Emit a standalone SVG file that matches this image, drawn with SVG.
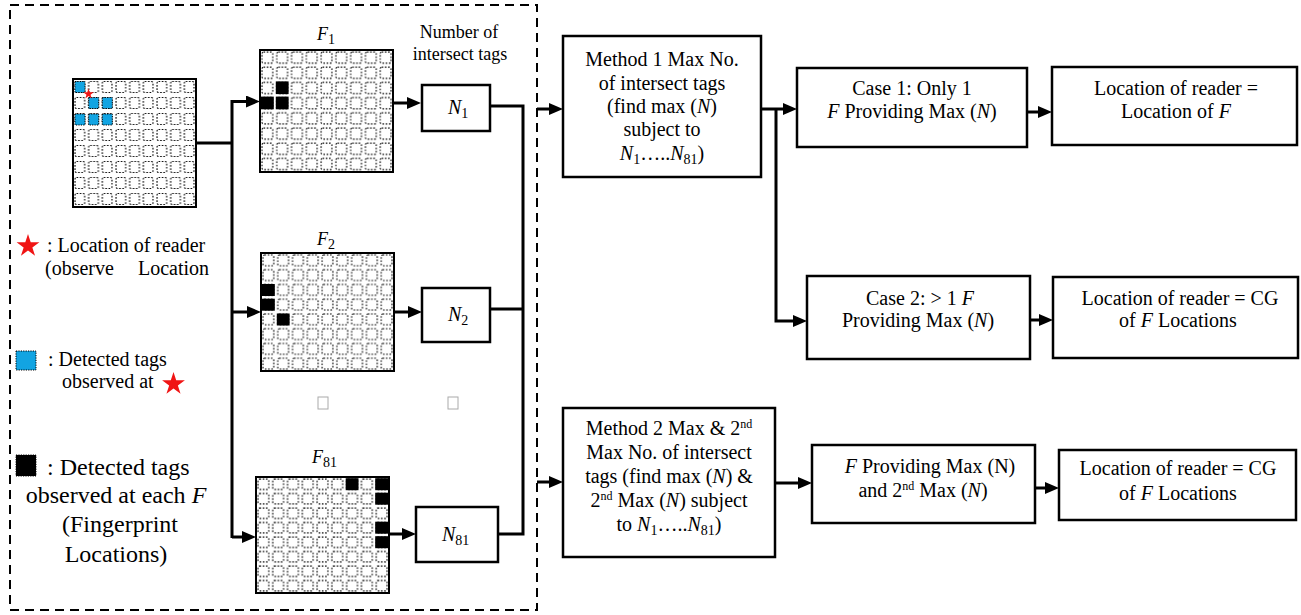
<svg xmlns="http://www.w3.org/2000/svg" xmlns:xlink="http://www.w3.org/1999/xlink" width="1301" height="615" viewBox="0 0 1301 615">
<style>
.bx{fill:#fff;stroke:#000;stroke-width:2.5}
.ln{fill:none;stroke:#000;stroke-width:3}
.ar{marker-end:url(#ah)}
text{font-family:'Liberation Serif',Tinos,'Times New Roman',Times,serif;font-size:20px;fill:#000}
.s18{font-size:18px}
.s24{font-size:24px}
.i{font-style:italic}
.sub{font-size:14px}
.sup{font-size:12px}
.gr{stroke:#000;stroke-width:2}
.blk{fill:#000}
.blue{fill:#12a4e2;stroke:#000;stroke-width:1;stroke-dasharray:1.2 1.2}
.star{fill:#f01414}
.cell{fill:none;stroke:#000;stroke-width:1.1;stroke-dasharray:1.6 1.6}
</style>
<defs>
<marker id="ah" markerUnits="userSpaceOnUse" markerWidth="14" markerHeight="12" refX="6" refY="6" orient="auto"><path d="M0,0 L14,6 L0,12 z" fill="#000"/></marker>
<path id="star" d="M0,-1 L0.2245,-0.309 L0.951,-0.309 L0.363,0.118 L0.588,0.809 L0,0.382 L-0.588,0.809 L-0.363,0.118 L-0.951,-0.309 L-0.2245,-0.309 z"/>
<pattern id="pObs" patternUnits="userSpaceOnUse" x="73" y="79" width="13.67" height="16"><rect class="cell" x="2" y="2.5" width="9.67" height="11" rx="1.5"/></pattern>
<pattern id="pF1" patternUnits="userSpaceOnUse" x="260" y="50" width="14.78" height="15.2"><rect class="cell" x="2" y="2" width="10.78" height="11.2" rx="1.5"/></pattern>
<pattern id="pF2" patternUnits="userSpaceOnUse" x="261" y="253" width="14.78" height="14.75"><rect class="cell" x="2" y="2" width="10.78" height="10.75" rx="1.5"/></pattern>
<pattern id="pF81" patternUnits="userSpaceOnUse" x="256" y="477" width="14.78" height="14.5"><rect class="cell" x="2" y="2" width="10.78" height="10.5" rx="1.5"/></pattern>
</defs>
<rect width="1301" height="615" fill="#fff"/>
<rect x="10" y="5" width="527" height="605" fill="none" stroke="#000" stroke-width="2" stroke-dasharray="9 6"/>

<g id="observed">
<rect x="73" y="79" width="123" height="128" fill="#fff"/>
<rect x="73" y="79" width="123" height="128" fill="url(#pObs)" class="gr"/>
<rect class="blue" x="75" y="81.5" width="10" height="11"/>
<rect class="blue" x="88.7" y="97.5" width="10" height="11"/>
<rect class="blue" x="102.3" y="97.5" width="10" height="11"/>
<rect class="blue" x="75" y="114" width="10" height="11"/>
<rect class="blue" x="88.7" y="114" width="10" height="11"/>
<rect class="blue" x="102.3" y="114" width="10" height="11"/>
<use xlink:href="#star" class="star" transform="translate(88.5,94) scale(5.5)"/>
</g>

<g id="legend">
<use xlink:href="#star" class="star" transform="translate(28,246) scale(12)"/>
<text x="47" y="252">: Location of reader</text>
<text x="45" y="275">(observe</text>
<text x="138" y="275">Location</text>
<rect class="blue" x="16" y="351" width="20" height="19"/>
<text x="48" y="366">: Detected tags</text>
<text x="62" y="388">observed at</text>
<use xlink:href="#star" class="star" transform="translate(173.5,384) scale(12)"/>
<rect x="16" y="455" width="20" height="21" fill="#000" stroke="#000" stroke-width="1" stroke-dasharray="1.2 1.2"/>
<text class="s24" x="47" y="475">: Detected tags</text>
<text class="s24" x="116" y="503" text-anchor="middle">observed at each <tspan class="i">F</tspan></text>
<text class="s24" x="120" y="532" text-anchor="middle">(Fingerprint</text>
<text class="s24" x="116" y="562" text-anchor="middle">Locations)</text>
</g>

<g id="F1">
<text class="s18 i" x="317" y="40">F<tspan class="sub" font-style="normal" dy="4">1</tspan></text>
<rect x="260" y="50" width="133" height="122" fill="#fff"/>
<rect x="260" y="50" width="133" height="122" fill="url(#pF1)" class="gr"/>
<rect class="blk" x="275.8" y="81.4" width="12.8" height="12.7"/>
<rect class="blk" x="261" y="96.6" width="12.8" height="12.7"/>
<rect class="blk" x="275.8" y="96.6" width="12.8" height="12.7"/>
</g>
<g id="numlabel">
<text class="s18" x="459" y="38" text-anchor="middle">Number of</text>
<text class="s18" x="460" y="60" text-anchor="middle">intersect tags</text>
</g>
<g id="N1">
<rect class="bx" x="422" y="85" width="68" height="46"/>
<text class="i" x="448" y="114">N<tspan class="sub" font-style="normal" dy="4">1</tspan></text>
</g>

<g id="F2">
<text class="s18 i" x="317" y="245">F<tspan class="sub" font-style="normal" dy="4">2</tspan></text>
<rect x="261" y="253" width="133" height="118" fill="#fff"/>
<rect x="261" y="253" width="133" height="118" fill="url(#pF2)" class="gr"/>
<rect class="blk" x="262" y="284" width="12.8" height="12"/>
<rect class="blk" x="262" y="298.7" width="12.8" height="12"/>
<rect class="blk" x="276.8" y="313.5" width="12.8" height="12"/>
</g>
<g id="N2">
<rect class="bx" x="422" y="288" width="68" height="54"/>
<text class="i" x="448" y="321">N<tspan class="sub" font-style="normal" dy="4">2</tspan></text>
</g>

<g id="ellipsis">
<rect x="318" y="397" width="10" height="12" fill="#fff" stroke="#aaa" stroke-width="1"/>
<rect x="448" y="397" width="10" height="12" fill="#fff" stroke="#aaa" stroke-width="1"/>
</g>

<g id="F81">
<text class="s18 i" x="312" y="463">F<tspan class="sub" font-style="normal" dy="4">81</tspan></text>
<rect x="256" y="477" width="133" height="116" fill="#fff"/>
<rect x="256" y="477" width="133" height="116" fill="url(#pF81)" class="gr"/>
<rect class="blk" x="345.7" y="478.2" width="12.8" height="12"/>
<rect class="blk" x="375.2" y="478.2" width="12.8" height="12"/>
<rect class="blk" x="375.2" y="492.7" width="12.8" height="12"/>
<rect class="blk" x="375.2" y="521.7" width="12.8" height="12"/>
<rect class="blk" x="375.2" y="536.2" width="12.8" height="12"/>
</g>
<g id="N81">
<rect class="bx" x="416" y="507" width="82" height="55"/>
<text class="i" x="442" y="541">N<tspan class="sub" font-style="normal" dy="4">81</tspan></text>
</g>

<g id="method1">
<rect class="bx" x="563" y="36" width="198" height="141"/>
<text x="662" y="66" text-anchor="middle">Method 1 Max No.</text>
<text x="662" y="90" text-anchor="middle">of intersect tags</text>
<text x="662" y="113" text-anchor="middle">(find max (<tspan class="i">N</tspan>)</text>
<text x="662" y="136" text-anchor="middle">subject to</text>
<text x="662" y="160" text-anchor="middle"><tspan class="i">N</tspan><tspan class="sub" dy="4">1</tspan><tspan dy="-4">…..</tspan><tspan class="i">N</tspan><tspan class="sub" dy="4">81</tspan><tspan dy="-4">)</tspan></text>
</g>

<g id="case1">
<rect class="bx" x="797" y="68" width="230" height="79"/>
<text x="912" y="95" text-anchor="middle">Case 1: Only 1</text>
<text x="912" y="118" text-anchor="middle"><tspan class="i">F</tspan> Providing Max (<tspan class="i">N</tspan>)</text>
</g>
<g id="loc1">
<rect class="bx" x="1052" y="67" width="245" height="78"/>
<text x="1176" y="95" text-anchor="middle">Location of reader =</text>
<text x="1176" y="118" text-anchor="middle">Location of <tspan class="i">F</tspan></text>
</g>

<g id="case2">
<rect class="bx" x="807" y="276" width="223" height="83"/>
<text x="920" y="305" text-anchor="middle">Case 2: &gt; 1 <tspan class="i">F</tspan></text>
<text x="918" y="327" text-anchor="middle">Providing Max (<tspan class="i">N</tspan>)</text>
</g>
<g id="loc2">
<rect class="bx" x="1053" y="277" width="245" height="81"/>
<text x="1180" y="305" text-anchor="middle">Location of reader = CG</text>
<text x="1178" y="327" text-anchor="middle">of <tspan class="i">F</tspan> Locations</text>
</g>

<g id="method2">
<rect class="bx" x="563" y="408" width="212" height="149"/>
<text x="669" y="435" text-anchor="middle">Method 2 Max &amp; 2<tspan class="sup" dy="-7">nd</tspan></text>
<text x="669" y="459" text-anchor="middle">Max No. of intersect</text>
<text x="669" y="483" text-anchor="middle">tags (find max (<tspan class="i">N</tspan>) &amp;</text>
<text x="669" y="507" text-anchor="middle">2<tspan class="sup" dy="-7">nd</tspan><tspan dy="7"> Max (</tspan><tspan class="i">N</tspan>) subject</text>
<text x="669" y="531" text-anchor="middle">to <tspan class="i">N</tspan><tspan class="sub" dy="4">1</tspan><tspan dy="-4">…..</tspan><tspan class="i">N</tspan><tspan class="sub" dy="4">81</tspan><tspan dy="-4">)</tspan></text>
</g>

<g id="fprov">
<rect class="bx" x="812" y="445" width="223" height="78"/>
<text x="930" y="473" text-anchor="middle"><tspan class="i">F</tspan> Providing Max (N)</text>
<text x="923" y="497" text-anchor="middle">and 2<tspan class="sup" dy="-7">nd</tspan><tspan dy="7"> Max (</tspan><tspan class="i">N</tspan>)</text>
</g>
<g id="loc3">
<rect class="bx" x="1059" y="450" width="237" height="70"/>
<text x="1178" y="475" text-anchor="middle">Location of reader = CG</text>
<text x="1178" y="500" text-anchor="middle">of <tspan class="i">F</tspan> Locations</text>
</g>

<g id="connectors">
<polyline class="ln" points="196,143 232,143"/>
<line class="ln" x1="232" y1="100" x2="232" y2="538"/>
<line class="ln ar" x1="232" y1="101.5" x2="252" y2="101.5"/>
<line class="ln ar" x1="232" y1="312" x2="253" y2="312"/>
<line class="ln ar" x1="232" y1="537" x2="248" y2="537"/>
<line class="ln ar" x1="393" y1="103" x2="413" y2="103"/>
<line class="ln ar" x1="394" y1="312" x2="414" y2="312"/>
<line class="ln ar" x1="389" y1="534" x2="408" y2="534"/>
<polyline class="ln" points="490,106 523,106 523,534 498,534"/>
<line class="ln" x1="490" y1="309" x2="523" y2="309"/>
<line class="ln ar" x1="537" y1="109" x2="555" y2="109"/>
<line class="ln ar" x1="537" y1="482" x2="555" y2="482"/>
<line class="ln ar" x1="761" y1="109" x2="789" y2="109"/>
<polyline class="ln ar" points="776,109 776,321 799,321"/>
<line class="ln ar" x1="1027" y1="112" x2="1044" y2="112"/>
<line class="ln ar" x1="1030" y1="320" x2="1045" y2="320"/>
<line class="ln ar" x1="775" y1="483" x2="804" y2="483"/>
<line class="ln ar" x1="1035" y1="488" x2="1051" y2="488"/>
</g>
</svg>
